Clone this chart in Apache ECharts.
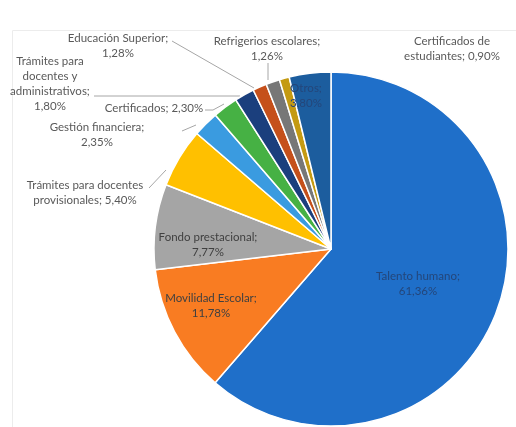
<!DOCTYPE html>
<html>
<head>
<meta charset="utf-8">
<script src="https://cdn.jsdelivr.net/npm/echarts@6/dist/echarts.min.js"></script>
<style>
  html, body { margin: 0; padding: 0; background: #fff; }
  #main { width: 516px; height: 427px; }
</style>
</head>
<body>
<div id="main"></div>
<script>
// datos (porcentaje), en orden horario desde las 12
var categorias = [
  "Talento humano",
  "Movilidad Escolar",
  "Fondo prestacional",
  "Trámites para docentes\nprovisionales",
  "Gestión financiera",
  "Certificados",
  "Trámites para\ndocentes y\nadministrativos",
  "Educación Superior",
  "Refrigerios escolares",
  "Certificados de\nestudiantes",
  "Otros"
];
var valores = [61.36, 11.78, 7.77, 5.40, 2.35, 2.30, 1.80, 1.28, 1.26, 0.90, 3.80];
// valor en la misma linea que el nombre
var mismaLinea = [false, false, false, true, false, true, false, false, false, true, false];
var colores = ["#1f6fc9", "#f97c22", "#a5a5a5", "#ffc000", "#3a9be0", "#46b144",
  "#1b3f7d", "#c5501b", "#777777", "#c49a12", "#1c5d9e"];

// posicion de las etiquetas (centro) y lineas guia
var posEtiqueta = [
  [418, 284], [211, 306], [208, 245], [85, 193], [97, 135], [154, 108],
  [50, 84], [118, 46], [267, 49], [452, 49], [306, 96]
];
var lineas = [
  null, null, null,
  [[149, 188], [166, 170]],
  [[182, 131], [196, 125]],
  [[205, 110], [213, 110], [224, 104]],
  [[94, 96], [240, 96]],
  [[172, 41], [254, 88]],
  [[268, 63], [268, 80]],
  null, null
];
var dentro = [0, 1, 2, 10];

var myChart = echarts.init(document.getElementById("main"));

var datos = categorias.map(function (c, i) {
  var col = "#595959";
  if (i === 1 || i === 2) col = "#404040";
  if (i === 0 || i === 10) col = "#24467a";
  return {
    name: c,
    value: valores[i],
    itemStyle: { color: colores[i] },
    label: { color: col },
    labelLine: { show: !!lineas[i] }
  };
});

var option = {
  animation: false,
  graphic: [{
    type: "rect",
    shape: { x: 12.5, y: 30.5, width: 510, height: 410 },
    style: { fill: "none", stroke: "#ececec", lineWidth: 1 },
    z: -1
  }],
  series: [{
    type: "pie",
    center: [331, 249],
    radius: 177,
    startAngle: 90,
    clockwise: true,
    itemStyle: { borderColor: "#fff", borderWidth: 1.5 },
    label: {
      show: true,
      position: "outside",
      fontFamily: "Lato",
      fontSize: 11.5,
      lineHeight: 15,
      align: "center",
      overflow: "none",
      formatter: function (p) {
        var i = p.dataIndex;
        var pct = valores[i].toFixed(2).replace(".", ",") + "%";
        return p.name + ";" + (mismaLinea[i] ? " " : "\n") + pct;
      }
    },
    labelLine: { lineStyle: { color: "#a6a6a6", width: 1 }, smooth: false },
    labelLayout: function (params) {
      var i = params.dataIndex;
      var r = {
        x: posEtiqueta[i][0],
        y: posEtiqueta[i][1],
        align: "center",
        verticalAlign: "middle"
      };
      if (lineas[i]) r.labelLinePoints = lineas[i];
      return r;
    },
    data: datos
  }]
};

myChart.setOption(option);
</script>
</body>
</html>
